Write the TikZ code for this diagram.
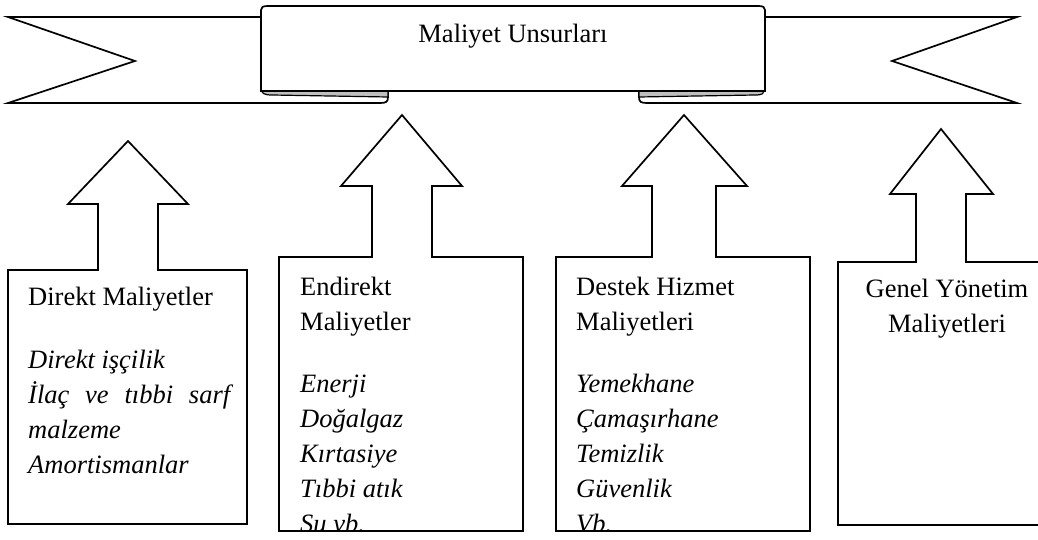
\documentclass[tikz,border=0pt]{standalone}
\usepackage{fontspec}
\setmainfont{Liberation Serif}
\begin{document}
\begin{tikzpicture}[x=1pt,y=-1pt,
  edge/.style={draw=black, line width=1.7pt, line join=miter},
  fold/.style={draw=black, line width=1.2pt, fill=black!25},
  txt/.style={inner sep=0pt, font=\fontsize{26.5}{35}\selectfont},
  head/.style={txt, anchor=base west},
  item/.style={txt, anchor=base west, font=\fontsize{26.5}{35}\selectfont\itshape}]
\useasboundingbox (0,0) rectangle (1038,540);
\clip (0,0) rectangle (1038,540);

% side bands of the banner
\draw[edge, fill=white] (8,17) -- (388,17) -- (388,97)
  .. controls (388,102) and (386,103) .. (380,103) -- (8,103) -- (135,61) -- cycle;
\draw[edge, fill=white] (1017,17) -- (639,17) -- (639,97)
  .. controls (639,102) and (641,103) .. (647,103) -- (1017,103) -- (892,61) -- cycle;

% folds under the central panel
\filldraw[fold] (262,91) -- (388,91) -- (388,97) -- (272,95)
  .. controls (264,95) and (262,93) .. (262,91) -- cycle;
\filldraw[fold] (764,91) -- (639,91) -- (639,97) -- (755,95)
  .. controls (763,95) and (764,93) .. (764,91) -- cycle;

% central panel
\draw[edge, fill=white] (261,91) -- (261,10) .. controls (261,7) and (263,6) .. (268,6)
  -- (758,6) .. controls (763,6) and (765,7) .. (765,10) -- (765,91) -- cycle;
\node[txt, anchor=base] (title) at (513,43) {Maliyet Unsurları};

% block arrows with their boxes
\draw[edge] (98,270) -- (98,204) -- (68,204) -- (128,141) -- (188,204) -- (158,204)
  -- (158,270) -- (247,270) -- (247,524) -- (8,524) -- (8,270) -- cycle;
\draw[edge] (372,257) -- (372,186) -- (341,186) -- (402,115) -- (462,186) -- (432,186)
  -- (432,257) -- (523,257) -- (523,531) -- (279,531) -- (279,257) -- cycle;
\draw[edge] (652,257) -- (652,186) -- (622,186) -- (684,115) -- (747,186) -- (716,186)
  -- (716,257) -- (810,257) -- (810,531) -- (556,531) -- (556,257) -- cycle;
\draw[edge] (916,262) -- (916,194) -- (890,194) -- (941,129) -- (993,194) -- (966,194)
  -- (966,262) -- (1060,262) -- (1060,525) -- (838,525) -- (838,262) -- cycle;

% box 1
\node[head] (d0) at (28,305) {Direkt Maliyetler};
\node[item] (d1) at (28,368) {Direkt işçilik};
\node[item] (d2) at (28,403) {\makebox[202pt][l]{İlaç\hfill ve\hfill tıbbi\hfill sarf}};
\node[item] (d3) at (28,438) {malzeme};
\node[item] (d4) at (28,473) {Amortismanlar};

% box 2
\begin{scope}
\clip (280,258) rectangle (522,529.5);
\node[head] (e0) at (300,295) {Endirekt};
\node[head] (e1) at (300,330) {Maliyetler};
\node[item] (e2) at (300,392) {Enerji};
\node[item] (e3) at (300,427) {Doğalgaz};
\node[item] (e4) at (300,462) {Kırtasiye};
\node[item] (e5) at (300,497) {Tıbbi atık};
\node[item] (e6) at (300,532) {Su vb.};
\end{scope}

% box 3
\begin{scope}
\clip (557,258) rectangle (809,529.5);
\node[head] (s0) at (576,295) {Destek Hizmet};
\node[head] (s1) at (576,330) {Maliyetleri};
\node[item] (s2) at (576,392) {Yemekhane};
\node[item] (s3) at (576,427) {Çamaşırhane};
\node[item] (s4) at (576,462) {Temizlik};
\node[item] (s5) at (576,497) {Güvenlik};
\node[item] (s6) at (576,532) {Vb.};
\end{scope}

% box 4
\node[txt, anchor=base] (g0) at (947,297) {Genel Yönetim};
\node[txt, anchor=base] (g1) at (947,332) {Maliyetleri};
\end{tikzpicture}
\end{document}
